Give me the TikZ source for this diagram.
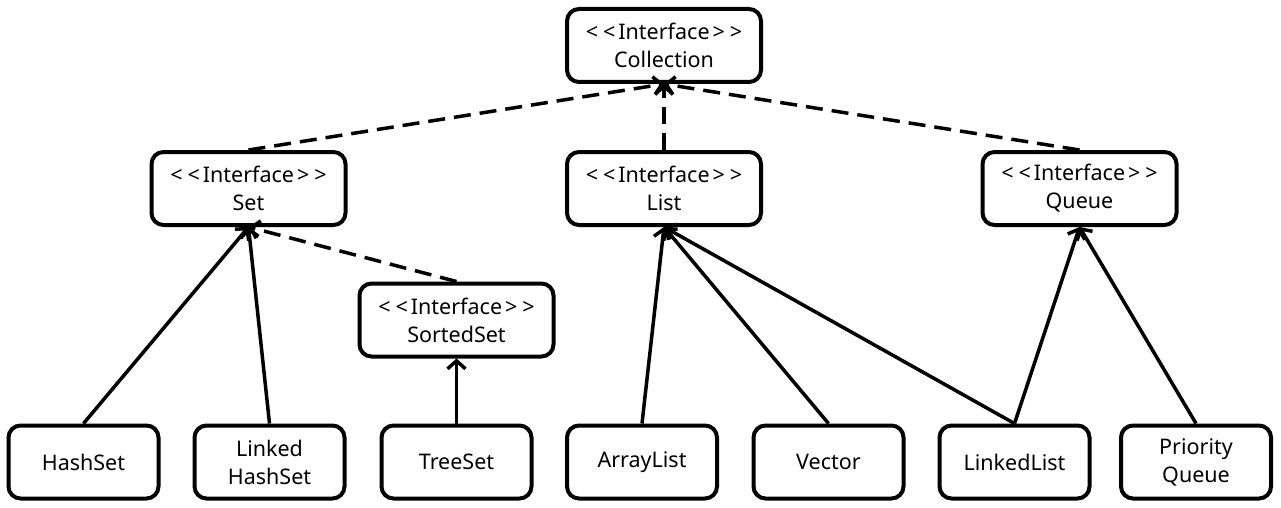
\documentclass[tikz,border=0pt]{standalone}
\usepackage{fontspec}
\setmainfont{Noto Sans}
\usetikzlibrary{arrows.meta}
\newcommand{\iface}{\mbox{<\kern5pt<\kern3pt Interface\kern3pt>\kern5pt>}}
\begin{document}
\begin{tikzpicture}[x=1pt,y=-1pt,
  box/.style={draw, line width=4pt, rounded corners=12pt, align=center, inner sep=0pt,
    font=\fontsize{21.5}{28}\selectfont},
  ibox/.style={box, minimum width=194pt, minimum height=73pt},
  cbox/.style={box, minimum width=150pt, minimum height=73pt},
  tip/.style={-{Straight Barb[length=8pt,width=18pt,line width=3.5pt]}},
  real/.style={line width=3.5pt, tip},
  impl/.style={line width=3.5pt, tip, dash pattern=on 17pt off 9pt},
]
\useasboundingbox (0,0) rectangle (1281,508);
\node[ibox] (coll) at (664,45.5) {\iface\\Collection};
\node[ibox] (set) at (248.5,188.5) {\iface\\Set};
\node[ibox] (list) at (664,188.5) {\iface\\List};
\node[ibox] (queue) at (1079.5,188.5) {\iface\\Queue};
\node[ibox] (sorted) at (456.5,320) {\iface\\SortedSet};
\node[cbox] (hash) at (83.5,462) {HashSet};
\node[cbox] (lhash) at (269.5,462) {Linked\\HashSet};
\node[cbox] (tree) at (456.5,462) {TreeSet};
\node[cbox] (alist) at (642,462) {ArrayList};
\node[cbox] (vec) at (828.5,462) {Vector};
\node[cbox] (llist) at (1014.5,462) {LinkedList};
\node[cbox] (pq) at (1196,462) {Priority\\Queue};

\draw[impl] (set.north) -- (coll.south);
\draw[impl] (list.north) -- (coll.south);
\draw[impl] (queue.north) -- (coll.south);
\draw[impl] (sorted.north) -- (set.south);
\draw[real] (hash.north) -- (set.south);
\draw[real] (lhash.north) -- (set.south);
\draw[real] (tree.north) -- (sorted.south);
\draw[real] (alist.north) -- (list.south);
\draw[real] (vec.north) -- (list.south);
\draw[real] (llist.north) -- (list.south);
\draw[real] (llist.north) -- (queue.south);
\draw[real] (pq.north) -- (queue.south);
\end{tikzpicture}
\end{document}
